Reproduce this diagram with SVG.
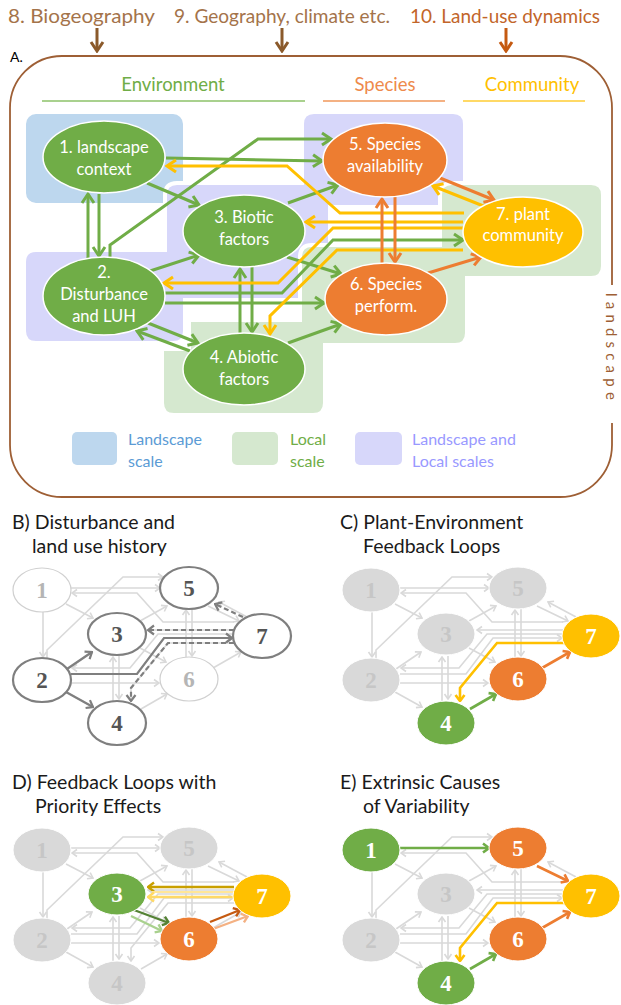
<svg xmlns="http://www.w3.org/2000/svg" width="621" height="1005" viewBox="0 0 621 1005">
<style>
text{font-family:Lato,"Open Sans","Liberation Sans",sans-serif}
.top{font-size:19px}
.nt{font-size:16.5px;fill:#fff;text-anchor:middle}
.hd{font-size:18.5px;text-anchor:middle}
.lg{font-size:16px}
.ttl{font-size:19.5px;fill:#1a1a1a}
.num{font-family:"Liberation Serif","DejaVu Serif",serif;font-weight:bold;font-size:23px;text-anchor:middle}
.eg{fill:none;stroke:#70AD47;stroke-width:3;marker-end:url(#mg)}
.ey{fill:none;stroke:#FFC000;stroke-width:3;marker-end:url(#my)}
.eo{fill:none;stroke:#ED7D31;stroke-width:3;marker-end:url(#mo)}
.reg{stroke:#fff;stroke-width:4}
.na{stroke:#fff;stroke-width:1.5}
.hg{fill:none;stroke:#70AD47;stroke-width:2.6;marker-end:url(#sg)}
.ho{fill:none;stroke:#ED7D31;stroke-width:2.6;marker-end:url(#so)}
.hy{fill:none;stroke:#FFC000;stroke-width:2.6;marker-end:url(#sy)}
.dk{fill:none;stroke:#7f7f7f;stroke-width:2.2;marker-end:url(#sd)}
.ds{stroke-dasharray:5 3}
.gn{fill:#d9d9d9;stroke:#fff;stroke-width:1}
.gt{fill:#c6c6c6}
</style>
<defs>
<marker id="mg" viewBox="-12 -8 14 16" refX="0" refY="0" markerWidth="14" markerHeight="16" markerUnits="userSpaceOnUse" orient="auto"><path d="M-9,-6 L0,0 L-9,6" fill="none" stroke="#70AD47" stroke-width="3"/></marker>
<marker id="my" viewBox="-12 -8 14 16" refX="0" refY="0" markerWidth="14" markerHeight="16" markerUnits="userSpaceOnUse" orient="auto"><path d="M-9,-6 L0,0 L-9,6" fill="none" stroke="#FFC000" stroke-width="3"/></marker>
<marker id="mo" viewBox="-12 -8 14 16" refX="0" refY="0" markerWidth="14" markerHeight="16" markerUnits="userSpaceOnUse" orient="auto"><path d="M-9,-6 L0,0 L-9,6" fill="none" stroke="#ED7D31" stroke-width="3"/></marker>
<marker id="mb" viewBox="-12 -8 14 16" refX="0" refY="0" markerWidth="14" markerHeight="16" markerUnits="userSpaceOnUse" orient="auto"><path d="M-9,-6 L0,0 L-9,6" fill="none" stroke="#8B5A2B" stroke-width="3"/></marker>
<marker id="mb2" viewBox="-12 -8 14 16" refX="0" refY="0" markerWidth="14" markerHeight="16" markerUnits="userSpaceOnUse" orient="auto"><path d="M-9,-6 L0,0 L-9,6" fill="none" stroke="#C55A11" stroke-width="3"/></marker>
<marker id="ms" viewBox="-8 -6 9 12" refX="0" refY="0" markerWidth="9" markerHeight="12" markerUnits="userSpaceOnUse" orient="auto"><path d="M-5,-3.5 L0,0 L-5,3.5" fill="none" stroke="#d9d9d9" stroke-width="1.6"/></marker>
<marker id="sd" viewBox="-9 -7 10 14" refX="0" refY="0" markerWidth="10" markerHeight="14" markerUnits="userSpaceOnUse" orient="auto"><path d="M-6,-4.5 L0,0 L-6,4.5" fill="none" stroke="#7f7f7f" stroke-width="2.2"/></marker>
<marker id="sg" viewBox="-9 -7 10 14" refX="0" refY="0" markerWidth="10" markerHeight="14" markerUnits="userSpaceOnUse" orient="auto"><path d="M-6,-4.5 L0,0 L-6,4.5" fill="none" stroke="#70AD47" stroke-width="2.6"/></marker>
<marker id="so" viewBox="-9 -7 10 14" refX="0" refY="0" markerWidth="10" markerHeight="14" markerUnits="userSpaceOnUse" orient="auto"><path d="M-6,-4.5 L0,0 L-6,4.5" fill="none" stroke="#ED7D31" stroke-width="2.6"/></marker>
<marker id="sy" viewBox="-9 -7 10 14" refX="0" refY="0" markerWidth="10" markerHeight="14" markerUnits="userSpaceOnUse" orient="auto"><path d="M-6,-4.5 L0,0 L-6,4.5" fill="none" stroke="#FFC000" stroke-width="2.6"/></marker>
<marker id="s1" viewBox="-9 -7 10 14" refX="0" refY="0" markerWidth="10" markerHeight="14" markerUnits="userSpaceOnUse" orient="auto"><path d="M-6,-4.5 L0,0 L-6,4.5" fill="none" stroke="#C9A000" stroke-width="2.4"/></marker>
<marker id="s2" viewBox="-9 -7 10 14" refX="0" refY="0" markerWidth="10" markerHeight="14" markerUnits="userSpaceOnUse" orient="auto"><path d="M-6,-4.5 L0,0 L-6,4.5" fill="none" stroke="#FFD966" stroke-width="2.4"/></marker>
<marker id="s3" viewBox="-9 -7 10 14" refX="0" refY="0" markerWidth="10" markerHeight="14" markerUnits="userSpaceOnUse" orient="auto"><path d="M-6,-4.5 L0,0 L-6,4.5" fill="none" stroke="#548235" stroke-width="2.4"/></marker>
<marker id="s4" viewBox="-9 -7 10 14" refX="0" refY="0" markerWidth="10" markerHeight="14" markerUnits="userSpaceOnUse" orient="auto"><path d="M-6,-4.5 L0,0 L-6,4.5" fill="none" stroke="#A9D18E" stroke-width="2.4"/></marker>
<marker id="s5" viewBox="-9 -7 10 14" refX="0" refY="0" markerWidth="10" markerHeight="14" markerUnits="userSpaceOnUse" orient="auto"><path d="M-6,-4.5 L0,0 L-6,4.5" fill="none" stroke="#C55A11" stroke-width="2.4"/></marker>
<marker id="s6" viewBox="-9 -7 10 14" refX="0" refY="0" markerWidth="10" markerHeight="14" markerUnits="userSpaceOnUse" orient="auto"><path d="M-6,-4.5 L0,0 L-6,4.5" fill="none" stroke="#F4B183" stroke-width="2.4"/></marker>
<g id="skel" fill="none" stroke="#d9d9d9" stroke-width="1.6" marker-end="url(#ms)">
<path d="M71,588 H160"/>
<path d="M47,659 V650 L123,577 H163"/>
<path d="M234,622 H163 L137,593 H72"/>
<path d="M234,630 H148"/>
<path d="M234,634 H158 L130,668 H72"/>
<path d="M71,674 H137 L164,638 H233"/>
<path d="M234,643 H168 L131,688 V701"/>
<path d="M71,683 H159"/>
<path d="M43,612 V657"/>
<path d="M66,604 L93,618"/>
<path d="M67,669 L92,652"/>
<path d="M66,692 L93,707"/>
<path d="M113,701 V657"/>
<path d="M119,656 V699"/>
<path d="M140,621 L167,606"/>
<path d="M140,648 L166,662"/>
<path d="M141,709 L167,694"/>
<path d="M192,609 V656"/>
<path d="M186,657 V610"/>
<path d="M213,668 L241,652"/>
<path d="M247,617 L219,602"/>
<path d="M208,606 L239,621"/>
</g>
</defs>
<rect width="621" height="1005" fill="#fff"/>

<!-- top drivers -->
<g id="drivers">
<text class="top" x="8" y="23" fill="#A4734A" textLength="147" lengthAdjust="spacingAndGlyphs">8. Biogeography</text>
<text class="top" x="174" y="23" fill="#A4734A" textLength="216" lengthAdjust="spacingAndGlyphs">9. Geography, climate etc.</text>
<text class="top" x="410" y="23" fill="#C2652A" textLength="190" lengthAdjust="spacingAndGlyphs">10. Land-use dynamics</text>
<path d="M97,28 V51" stroke="#8B5A2B" stroke-width="3" marker-end="url(#mb)"/>
<path d="M282,28 V51" stroke="#8B5A2B" stroke-width="3" marker-end="url(#mb)"/>
<path d="M506,28 V51" stroke="#C55A11" stroke-width="3" marker-end="url(#mb2)"/>
</g>

<!-- panel A frame -->
<text x="10" y="62" font-size="14" fill="#000">A.</text>
<path d="M612,285 V108 A52,52 0 0 0 560,56 H62 A52,52 0 0 0 10,108 V445 A52,52 0 0 0 62,497 H560 A52,52 0 0 0 612,445 V423" fill="none" stroke="#9E5F35" stroke-width="1.8"/>
<text transform="translate(606,293) rotate(90)" font-size="15" letter-spacing="5.2" fill="#9E5F35">landscape</text>

<text class="hd" x="173" y="91" fill="#70AD47">Environment</text>
<text class="hd" x="385" y="91" fill="#EE8A4B">Species</text>
<text class="hd" x="532" y="91" fill="#FFC000">Community</text>
<path d="M42,101 H305" stroke="#A9D18E" stroke-width="2"/>
<path d="M323,101 H445" stroke="#F4B183" stroke-width="2"/>
<path d="M463,101 H585" stroke="#FFD966" stroke-width="2"/>

<!-- scale regions -->
<g id="regions">
<rect class="reg" x="24" y="112" width="161" height="93" rx="12" fill="#BDD7EE"/>
<path class="reg" fill="#D7D7FA" d="M177,183 H302 V124 Q302,112 314,112 H453 Q465,112 465,124 V195 Q465,207 453,207 H330 V288 Q330,300 318,300 H185 V331 Q185,343 173,343 H36 Q24,343 24,331 V262 Q24,250 36,250 H165 V195 Q165,183 177,183 Z"/>
<path class="reg" fill="#D5E8CF" d="M452,183 H591 Q603,183 603,195 V266 Q603,278 591,278 H467 V333 Q467,345 455,345 H325 V403 Q325,415 313,415 H174 Q162,415 162,403 V349 H189 V320 H300 V257 Q300,245 312,245 H440 V195 Q440,183 452,183 Z"/>
</g>

<!-- connectors panel A -->
<g id="connectors-A">
<path class="eg" d="M166,158 L322,161"/>
<path class="eg" d="M110,259 V245 L258,139 H331"/>
<path class="eg" d="M147,183 L199,205"/>
<path class="eg" d="M147,272 L199,255"/>
<path class="eg" d="M288,203 L338,185"/>
<path class="eg" d="M287,257 L341,274"/>
<path class="eg" d="M165,293 H282 L333,240 H463"/>
<path class="eg" d="M165,303 H324"/>
<path class="eg" d="M99,194 V256"/>
<path class="eg" d="M88,258 V194"/>
<path class="eg" d="M148,323 L198,343"/>
<path class="eg" d="M190,351 L137,331"/>
<path class="eg" d="M240,333 V269"/>
<path class="eg" d="M252,267 V332"/>
<path class="eg" d="M288,343 L341,324"/>
<path class="ey" d="M464,213 H340 L287,166 H167"/>
<path class="ey" d="M463,222 H306"/>
<path class="ey" d="M463,228 H333 L278,283 H164"/>
<path class="ey" d="M463,250 H337 L270,316 V334"/>
<path class="ey" d="M486,207 L433,186"/>
<path class="eo" d="M395,197 V262"/>
<path class="eo" d="M382,263 V199"/>
<path class="eo" d="M440,178 L494,200"/>
<path class="eo" d="M428,273 L481,257"/>
</g>

<!-- nodes panel A -->
<g id="n1"><ellipse class="na" cx="104" cy="157" rx="61" ry="36" fill="#70AD47"/><text class="nt" x="104" y="153">1. landscape</text><text class="nt" x="104" y="175">context</text></g>
<g id="n2"><ellipse class="na" cx="104" cy="296" rx="61" ry="39" fill="#70AD47"/><text class="nt" x="104" y="278">2.</text><text class="nt" x="104" y="300">Disturbance</text><text class="nt" x="104" y="322">and LUH</text></g>
<g id="n3"><ellipse class="na" cx="244" cy="231" rx="61" ry="36" fill="#70AD47"/><text class="nt" x="244" y="223">3. Biotic</text><text class="nt" x="244" y="245">factors</text></g>
<g id="n4"><ellipse class="na" cx="244" cy="369" rx="61" ry="36" fill="#70AD47"/><text class="nt" x="244" y="363">4. Abiotic</text><text class="nt" x="244" y="385">factors</text></g>
<g id="n5"><ellipse class="na" cx="385" cy="160" rx="62" ry="37" fill="#ED7D31"/><text class="nt" x="385" y="150">5. Species</text><text class="nt" x="385" y="172">availability</text></g>
<g id="n6"><ellipse class="na" cx="386" cy="299" rx="61" ry="36" fill="#ED7D31"/><text class="nt" x="386" y="290">6. Species</text><text class="nt" x="386" y="312">perform.</text></g>
<g id="n7"><ellipse class="na" cx="523" cy="232" rx="60" ry="35" fill="#FFC000"/><text class="nt" x="523" y="220">7. plant</text><text class="nt" x="523" y="241">community</text></g>

<!-- legend -->
<g id="legend">
<rect x="72" y="432" width="45" height="33" rx="5" fill="#BDD7EE"/>
<text class="lg" x="128" y="445" fill="#5B9BD5">Landscape</text><text class="lg" x="128" y="467" fill="#5B9BD5">scale</text>
<rect x="232" y="432" width="46" height="33" rx="5" fill="#D5E8CF"/>
<text class="lg" x="290" y="445" fill="#70AD47">Local</text><text class="lg" x="290" y="467" fill="#70AD47">scale</text>
<rect x="355" y="432" width="47" height="33" rx="5" fill="#D7D7FA"/>
<text class="lg" x="412" y="445" fill="#9999FF">Landscape and</text><text class="lg" x="412" y="467" fill="#9999FF">Local scales</text>
</g>

<!-- titles -->
<text class="ttl" x="12" y="529">B) Disturbance and</text>
<text class="ttl" x="32" y="553">land use history</text>
<text class="ttl" x="340" y="529">C) Plant-Environment</text>
<text class="ttl" x="363" y="553">Feedback Loops</text>
<text class="ttl" x="12" y="789">D) Feedback Loops with</text>
<text class="ttl" x="35" y="813">Priority Effects</text>
<text class="ttl" x="340" y="789">E) Extrinsic Causes</text>
<text class="ttl" x="363" y="813">of Variability</text>

<!-- panel B -->
<g id="panel-B">
<use href="#skel"/>
<g id="connectors-B">
<path class="dk" d="M67,669 L92,652"/>
<path class="dk" d="M66,692 L93,707"/>
<path class="dk" d="M71,674 H137 L164,638 H232"/>
<path class="dk ds" d="M243,617 L215,604"/>
<path class="dk ds" d="M234,630 H148"/>
<path class="dk ds" d="M234,643 H168 L131,688 V701"/>
</g>
<g id="b1"><ellipse cx="42" cy="590" rx="29" ry="22" fill="#fff" stroke="#d0d0d0" stroke-width="1.2"/><text class="num" x="42" y="598" fill="#b5b5b5">1</text></g>
<g id="b2"><ellipse cx="42" cy="680" rx="29" ry="22" fill="#fff" stroke="#7f7f7f" stroke-width="2.2"/><text class="num" x="42" y="688" fill="#555">2</text></g>
<g id="b3"><ellipse cx="117" cy="634" rx="29" ry="21" fill="#fff" stroke="#7f7f7f" stroke-width="2.2"/><text class="num" x="117" y="642" fill="#555">3</text></g>
<g id="b4"><ellipse cx="117" cy="723" rx="29" ry="22" fill="#fff" stroke="#7f7f7f" stroke-width="2.2"/><text class="num" x="117" y="731" fill="#555">4</text></g>
<g id="b5"><ellipse cx="189" cy="588" rx="29" ry="21" fill="#fff" stroke="#7f7f7f" stroke-width="2.2"/><text class="num" x="189" y="596" fill="#555">5</text></g>
<g id="b6"><ellipse cx="189" cy="679" rx="29" ry="22" fill="#fff" stroke="#d0d0d0" stroke-width="1.2"/><text class="num" x="189" y="687" fill="#b5b5b5">6</text></g>
<g id="b7"><ellipse cx="262" cy="636" rx="29" ry="22" fill="#fff" stroke="#7f7f7f" stroke-width="2.2"/><text class="num" x="262" y="644" fill="#555">7</text></g>
</g>

<!-- panel C -->
<g id="panel-C" transform="translate(329,0)">
<use href="#skel"/>
<g id="connectors-C">
<path class="hy" d="M236,643 H168 L131,688 V701"/>
<path class="hg" d="M141,709 L167,694"/>
<path class="ho" d="M213,668 L241,652"/>
</g>
<g id="c1"><ellipse class="gn" cx="42" cy="590" rx="29" ry="22"/><text class="num gt" x="42" y="598">1</text></g>
<g id="c2"><ellipse class="gn" cx="42" cy="680" rx="29" ry="22"/><text class="num gt" x="42" y="688">2</text></g>
<g id="c3"><ellipse class="gn" cx="117" cy="634" rx="29" ry="21"/><text class="num gt" x="117" y="642">3</text></g>
<g id="c4"><ellipse cx="117" cy="723" rx="29" ry="22" fill="#70AD47" stroke="#fff"/><text class="num" x="117" y="731" fill="#fff">4</text></g>
<g id="c5"><ellipse class="gn" cx="189" cy="588" rx="29" ry="21"/><text class="num gt" x="189" y="596">5</text></g>
<g id="c6"><ellipse cx="189" cy="679" rx="29" ry="22" fill="#ED7D31" stroke="#fff"/><text class="num" x="189" y="687" fill="#fff">6</text></g>
<g id="c7"><ellipse cx="262" cy="636" rx="29" ry="22" fill="#FFC000" stroke="#fff"/><text class="num" x="262" y="644" fill="#fff">7</text></g>
</g>

<!-- panel D -->
<g id="panel-D" transform="translate(0,260)">
<use href="#skel"/>
<g id="connectors-D">
<path d="M234,627 H148" fill="none" stroke="#C9A000" stroke-width="2.4" marker-end="url(#s1)"/>
<path d="M234,632 H152" fill="none" stroke="#FFE699" stroke-width="2"/>
<path d="M234,637 H148" fill="none" stroke="#FFD966" stroke-width="2.4" marker-end="url(#s2)"/>
<path d="M134,650 L169,663" fill="none" stroke="#548235" stroke-width="2.4" marker-end="url(#s3)"/>
<path d="M131,656 L162,671" fill="none" stroke="#A9D18E" stroke-width="2.4" marker-end="url(#s4)"/>
<path d="M210,662 L240,650" fill="none" stroke="#C55A11" stroke-width="2.4" marker-end="url(#s5)"/>
<path d="M213,669 L248,656" fill="none" stroke="#F4B183" stroke-width="2.4" marker-end="url(#s6)"/>
</g>
<g id="d1"><ellipse class="gn" cx="42" cy="590" rx="29" ry="22"/><text class="num gt" x="42" y="598">1</text></g>
<g id="d2"><ellipse class="gn" cx="42" cy="680" rx="29" ry="22"/><text class="num gt" x="42" y="688">2</text></g>
<g id="d3"><ellipse cx="117" cy="634" rx="29" ry="21" fill="#70AD47" stroke="#fff"/><text class="num" x="117" y="642" fill="#fff">3</text></g>
<g id="d4"><ellipse class="gn" cx="117" cy="723" rx="29" ry="22"/><text class="num gt" x="117" y="731">4</text></g>
<g id="d5"><ellipse class="gn" cx="189" cy="588" rx="29" ry="21"/><text class="num gt" x="189" y="596">5</text></g>
<g id="d6"><ellipse cx="189" cy="679" rx="29" ry="22" fill="#ED7D31" stroke="#fff"/><text class="num" x="189" y="687" fill="#fff">6</text></g>
<g id="d7"><ellipse cx="262" cy="636" rx="29" ry="22" fill="#FFC000" stroke="#fff"/><text class="num" x="262" y="644" fill="#fff">7</text></g>
</g>

<!-- panel E -->
<g id="panel-E" transform="translate(329,260)">
<use href="#skel"/>
<g id="connectors-E">
<path class="hg" d="M71,588 H160"/>
<path class="ho" d="M208,606 L239,621"/>
<path class="ho" d="M213,668 L241,652"/>
<path class="hy" d="M236,643 H168 L131,688 V701"/>
<path class="hg" d="M141,709 L167,694"/>
</g>
<g id="e1"><ellipse cx="42" cy="590" rx="29" ry="22" fill="#70AD47" stroke="#fff"/><text class="num" x="42" y="598" fill="#fff">1</text></g>
<g id="e2"><ellipse class="gn" cx="42" cy="680" rx="29" ry="22"/><text class="num gt" x="42" y="688">2</text></g>
<g id="e3"><ellipse class="gn" cx="117" cy="634" rx="29" ry="21"/><text class="num gt" x="117" y="642">3</text></g>
<g id="e4"><ellipse cx="117" cy="723" rx="29" ry="22" fill="#70AD47" stroke="#fff"/><text class="num" x="117" y="731" fill="#fff">4</text></g>
<g id="e5"><ellipse cx="189" cy="588" rx="29" ry="21" fill="#ED7D31" stroke="#fff"/><text class="num" x="189" y="596" fill="#fff">5</text></g>
<g id="e6"><ellipse cx="189" cy="679" rx="29" ry="22" fill="#ED7D31" stroke="#fff"/><text class="num" x="189" y="687" fill="#fff">6</text></g>
<g id="e7"><ellipse cx="262" cy="636" rx="29" ry="22" fill="#FFC000" stroke="#fff"/><text class="num" x="262" y="644" fill="#fff">7</text></g>
</g>
</svg>
